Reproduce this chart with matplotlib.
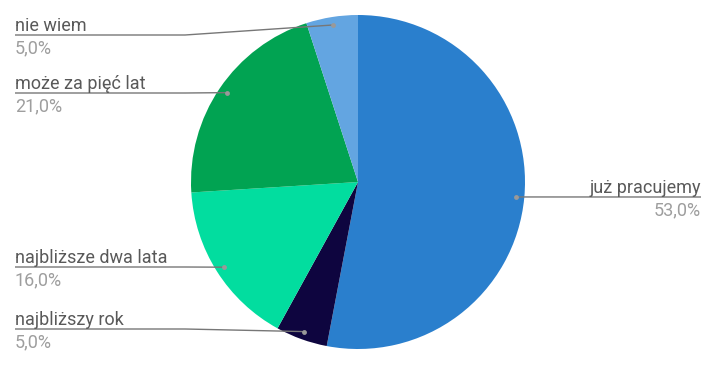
import numpy as np
import matplotlib
matplotlib.use("Agg")
import matplotlib.pyplot as plt

labels = ["już pracujemy", "najbliższy rok", "najbliższe dwa lata", "może za pięć lat", "nie wiem"]
values = [53.0, 5.0, 16.0, 21.0, 5.0]
pct_labels = ["53,0%", "5,0%", "16,0%", "21,0%", "5,0%"]
colors = ["#2a7fcd", "#0e053f", "#02dd9f", "#01a352", "#63a5e1"]

W, H = 716, 365
plt.rcParams['font.family'] = ['Roboto', 'DejaVu Sans']
fig = plt.figure(figsize=(W / 100, H / 100), dpi=100)
ax = fig.add_axes([0, 0, 1, 1])
ax.set_xlim(0, W)
ax.set_ylim(0, H)
ax.set_aspect('equal')
ax.axis('off')

def Y(y):
    return H - y

cx, cy, R = 358, 182, 167
wedges, _ = ax.pie(values, colors=colors, startangle=90, counterclock=False,
                   center=(cx, Y(cy)), radius=R, frame=True,
                   wedgeprops=dict(linewidth=0))
ax.set_xlim(0, W)
ax.set_ylim(0, H)
ax.axis('off')

# label line y positions (pixel rows) and side
label_y = {0: 197, 1: 329, 2: 267, 3: 93, 4: 35}
line_col = "#777777"
dot_col = "#999999"
fs = 13
for i, w in enumerate(wedges):
    ang = np.deg2rad((w.theta1 + w.theta2) / 2)
    dx = cx + 0.952 * R * np.cos(ang)
    dy = Y(cy) + 0.952 * R * np.sin(ang)
    ly = Y(label_y[i])
    if np.cos(ang) > 0:
        xe = 701
        ax.plot([dx, xe], [dy, ly], color=line_col, lw=1, solid_capstyle='butt')
        ax.text(xe, ly + 4, labels[i], ha='right', va='baseline', fontsize=fs, color='#595959')
        ax.text(xe, ly - 4, pct_labels[i], ha='right', va='top', fontsize=fs, color='#9e9e9e')
    else:
        xs = 15
        ax.plot([xs, 185, dx], [ly, ly, dy], color=line_col, lw=1, solid_capstyle='butt')
        ax.text(xs, ly + 4, labels[i], ha='left', va='baseline', fontsize=fs, color='#595959')
        ax.text(xs, ly - 4, pct_labels[i], ha='left', va='top', fontsize=fs, color='#9e9e9e')
    ax.plot([dx], [dy], 'o', ms=3.5, color=dot_col, mew=0)

fig.savefig("out.png", dpi=100)
